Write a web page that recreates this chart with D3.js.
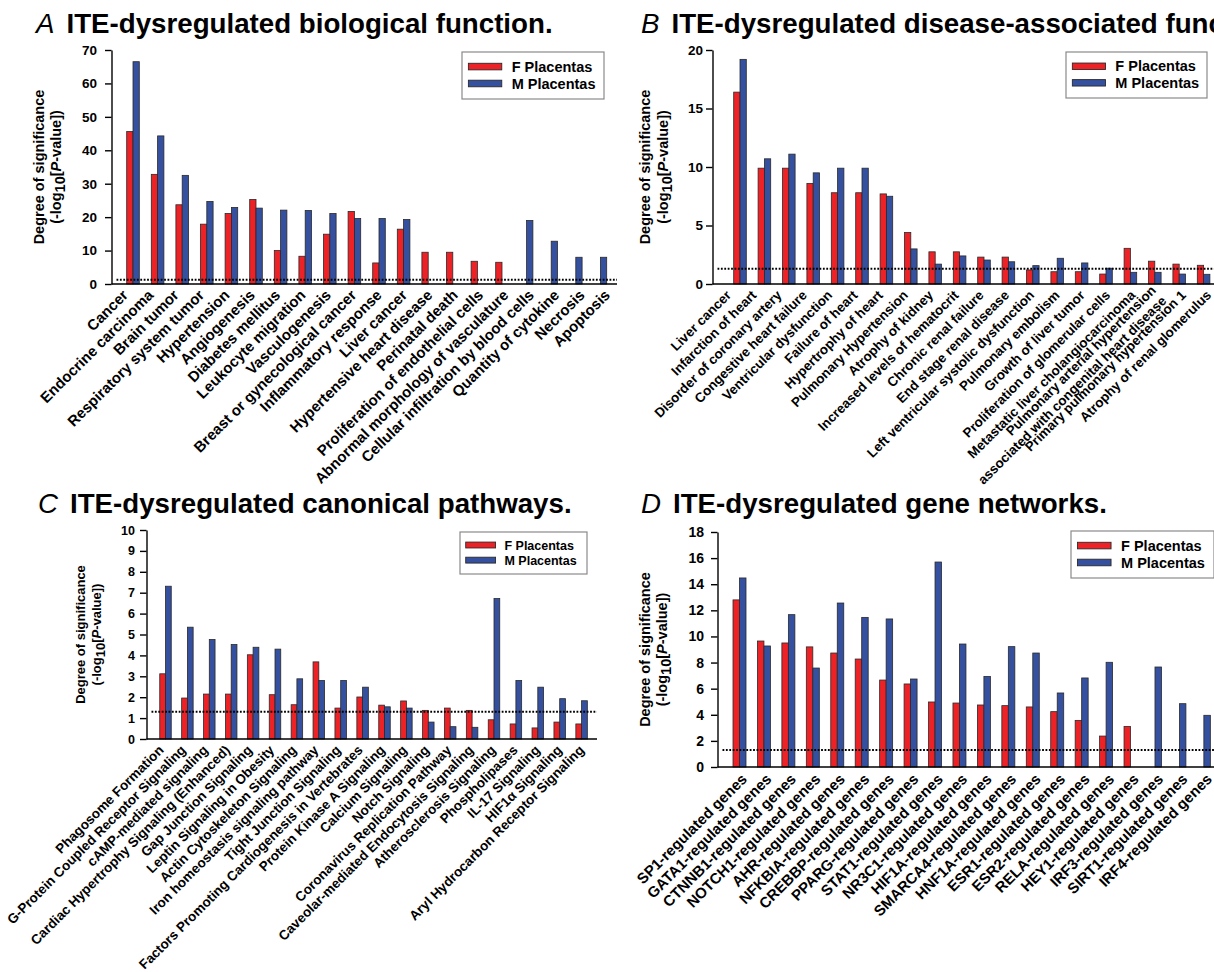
<!DOCTYPE html>
<html>
<head>
<meta charset="utf-8">
<script src="https://cdn.jsdelivr.net/npm/d3@7"></script>
<style>
  body { margin: 0; background: #fff; }
  svg text { font-family: 'Liberation Sans', Arial, Helvetica, sans-serif; font-weight: bold; fill: #000; }
</style>
</head>
<body>
<svg id="chart" width="1214" height="972"></svg>
<script>
// legend names and significance threshold (-log10 of 0.05)
const seriesNames = ['F Placentas', 'M Placentas'];
const threshold = 1.3;

// A - biological function
const catsA = ['Cancer', 'Endocrine carcinoma', 'Brain tumor', 'Respiratory system tumor', 'Hypertension',
  'Angiogenesis', 'Diabetes mellitus', 'Leukocyte migration', 'Vasculogenesis', 'Breast or gynecological cancer',
  'Inflammatory response', 'Liver cancer', 'Hypertensive heart disease', 'Perinatal death',
  'Proliferation of endothelial cells', 'Abnormal morphology of vasculature', 'Cellular infiltration by blood cells',
  'Quantity of cytokine', 'Necrosis', 'Apoptosis'];
const femaleA = [45.6, 32.8, 23.7, 17.9, 21.1, 25.3, 10.0, 8.3, 14.9, 21.7, 6.3, 16.4, 9.5, 9.5, 6.8, 6.5, 0, 0, 0, 0];
const maleA = [66.5, 44.3, 32.5, 24.7, 22.9, 22.7, 22.1, 22.0, 21.1, 19.6, 19.6, 19.3, 0, 0, 0, 0, 19.0, 12.8, 8.0, 8.0];
const ticksA = [0, 10, 20, 30, 40, 50, 60, 70];

// B - disease-associated functions
const catsB = ['Liver cancer', 'Infarction of heart', 'Disorder of coronary artery', 'Congestive heart failure',
  'Ventricular dysfunction', 'Failure of heart', 'Hypertrophy of heart', 'Pulmonary Hypertension',
  'Atrophy of kidney', 'Increased levels of hematocrit', 'Chronic renal failure', 'End stage renal disease',
  'Left ventricular systolic dysfunction', 'Pulmonary embolism', 'Growth of liver tumor',
  'Proliferation of glomerular cells', 'Metastatic liver cholangiocarcinoma',
  'Pulmonary arterial hypertension\nassociated with congenital heart disease',
  'Primary pulmonary hypertension 1', 'Atrophy of renal glomerulus'];
const femaleB = [16.4, 9.9, 9.9, 8.6, 7.8, 7.8, 7.7, 4.4, 2.75, 2.75, 2.3, 2.3, 1.2, 1.05, 1.05, 0.85, 3.05, 1.95, 1.7, 1.6];
const maleB = [19.2, 10.7, 11.1, 9.5, 9.9, 9.9, 7.5, 3.0, 1.7, 2.4, 2.05, 1.9, 1.57, 2.2, 1.8, 1.35, 1.0, 1.0, 0.85, 0.83];
const ticksB = [0, 5, 10, 15, 20];

// C - canonical pathways
const catsC = ['Phagosome Formation', 'G-Protein Coupled Receptor Signaling', 'cAMP-mediated signaling',
  'Cardiac Hypertrophy Signaling (Enhanced)', 'Gap Junction Signaling', 'Leptin Signaling in Obesity',
  'Actin Cytoskeleton Signaling', 'Iron homeostasis signaling pathway', 'Tight Junction Signaling',
  'Factors Promoting Cardiogenesis in Vertebrates', 'Protein Kinase A Signaling', 'Calcium Signaling',
  'Notch Signaling', 'Coronavirus Replication Pathway', 'Caveolar-mediated Endocytosis Signaling',
  'Atherosclerosis Signaling', 'Phospholipases', 'IL-17 Signaling', 'HIF1α Signaling',
  'Aryl Hydrocarbon Receptor Signaling'];
const femaleC = [3.12, 1.96, 2.15, 2.15, 4.03, 2.12, 1.64, 3.69, 1.48, 2.01, 1.62, 1.82, 1.37, 1.48, 1.37, 0.92, 0.72, 0.53, 0.81, 0.72];
const maleC = [7.31, 5.35, 4.76, 4.52, 4.39, 4.30, 2.88, 2.80, 2.80, 2.48, 1.54, 1.48, 0.81, 0.59, 0.56, 6.72, 2.80, 2.48, 1.93, 1.83];
const ticksC = [0, 1, 2, 3, 4, 5, 6, 7, 8, 9, 10];

// D - gene networks
const catsD = ['SP1-regulated genes', 'GATA1-regulated genes', 'CTNNB1-regulated genes', 'NOTCH1-regulated genes',
  'AHR-regulated genes', 'NFKBIA-regulated genes', 'CREBBP-regulated genes', 'PPARG-regulated genes',
  'STAT1-regulated genes', 'NR3C1-regulated genes', 'HIF1A-regulated genes', 'SMARCA4-regulated genes',
  'HNF1A-regulated genes', 'ESR1-regulated genes', 'ESR2-regulated genes', 'RELA-regulated genes',
  'HEY1-regulated genes', 'IRF3-regulated genes', 'SIRT1-regulated genes', 'IRF4-regulated genes'];
const femaleD = [12.8, 9.65, 9.5, 9.2, 8.73, 8.27, 6.66, 6.36, 4.98, 4.9, 4.75, 4.7, 4.6, 4.24, 3.57, 2.37, 3.11, 0, 0, 0];
const maleD = [14.48, 9.27, 11.67, 7.58, 12.56, 11.46, 11.34, 6.74, 15.7, 9.42, 6.94, 9.22, 8.73, 5.67, 6.82, 8.02, 0, 7.66, 4.85, 3.96];
const ticksD = [0, 2, 4, 6, 8, 10, 12, 14, 16, 18];

const colors = ['#ec2227', '#34509f'];

const svg = d3.select('#chart');
svg.append('rect').attr('width', 1214).attr('height', 972).attr('fill', '#fff');

// layout per panel; labRange is where the rotated category labels end
const panels = [
  { letter: 'A', title: 'ITE-dysregulated biological function.', cats: catsA, f: femaleA, m: maleA, ticks: ticksA,
    tx: 36, ty: 33, axisX: 111.5, yTop: 50, yBot: 284, c0: 133, step: 24.6, groupW: 12.6, xEnd: 617,
    tickFont: 13.5, tickPad: 8, labFont: 15, labRange: [129, 611], ldy: 12, yl1: 44, yl2: 61, ylFont: 14.5,
    leg: { x: 462, y: 52, w: 142, h: 47, font: 14.5 } },
  { letter: 'B', title: 'ITE-dysregulated disease-associated functions.', cats: catsB, f: femaleB, m: maleB, ticks: ticksB,
    tx: 641, ty: 33, axisX: 712.5, yTop: 50, yBot: 284, c0: 740, step: 24.4, groupW: 12.6, xEnd: 1214,
    tickFont: 13.5, tickPad: 3, labFont: 13.4, labRange: [732, 1212], ldy: 12, yl1: 650, yl2: 668, ylFont: 14.5,
    leg: { x: 1066, y: 52, w: 141, h: 46, font: 14.5 } },
  { letter: 'C', title: 'ITE-dysregulated canonical pathways.', cats: catsC, f: femaleC, m: maleC, ticks: ticksC,
    tx: 38, ty: 513, axisX: 146.5, yTop: 530, yBot: 739, c0: 165.5, step: 21.9, groupW: 11.5, xEnd: 597,
    tickFont: 12.5, tickPad: 5, labFont: 13.5, labRange: [164.5, 585], ldy: 12, yl1: 85, yl2: 101, ylFont: 13,
    leg: { x: 460, y: 532, w: 127, h: 42, font: 12.5 } },
  { letter: 'D', title: 'ITE-dysregulated gene networks.', cats: catsD, f: femaleD, m: maleD, ticks: ticksD,
    tx: 641, ty: 513, axisX: 717.5, yTop: 532, yBot: 767, c0: 739.5, step: 24.44, groupW: 13, xEnd: 1214,
    tickFont: 14, tickPad: 7, labFont: 15, labRange: [748, 1213], ldy: 13, yl1: 650, yl2: 667, ylFont: 14.5,
    leg: { x: 1071, y: 531, w: 143, h: 47, font: 14.5 } }
];

function drawPanel(p) {
  const g = svg.append('g').attr('class', 'panel-' + p.letter);
  const n = p.cats.length;
  const pad = 1 - p.groupW / p.step;

  const x = d3.scaleBand()
    .domain(p.cats)
    .range([p.c0 - p.step / 2, p.c0 - p.step / 2 + n * p.step])
    .paddingInner(pad)
    .paddingOuter(pad / 2);
  const xs = d3.scaleBand().domain([0, 1]).range([0, x.bandwidth()]);
  const xl = d3.scalePoint().domain(p.cats).range(p.labRange);
  const y = d3.scaleLinear().domain([0, d3.max(p.ticks)]).range([p.yBot, p.yTop]);

  // title
  const t = g.append('text').attr('x', p.tx).attr('y', p.ty).attr('font-size', 27.7);
  t.append('tspan').attr('font-style', 'italic').style('font-weight', 'normal').text(p.letter);
  t.append('tspan').attr('dx', 12).text(p.title);

  // bars
  const rows = p.cats.map((c, i) => ({ cat: c, vals: [p.f[i], p.m[i]] }));
  const grp = g.append('g').selectAll('g').data(rows).join('g')
    .attr('transform', d => `translate(${x(d.cat)},0)`);
  grp.selectAll('rect')
    .data(d => d.vals.map((v, k) => ({ v, k })).filter(e => e.v > 0))
    .join('rect')
    .attr('x', e => xs(e.k))
    .attr('width', xs.bandwidth())
    .attr('y', e => y(e.v))
    .attr('height', e => y(0) - y(e.v))
    .attr('fill', e => colors[e.k])
    .attr('stroke', '#2a2a2a')
    .attr('stroke-width', 0.8);

  // threshold
  g.append('line')
    .attr('x1', p.axisX + 5).attr('x2', p.xEnd)
    .attr('y1', y(threshold)).attr('y2', y(threshold))
    .attr('stroke', '#000').attr('stroke-width', 2)
    .attr('stroke-dasharray', '1.8 1.6');

  // y axis
  const ya = g.append('g')
    .attr('transform', `translate(${p.axisX},0)`)
    .call(d3.axisLeft(y).tickValues(p.ticks).tickSize(6.5).tickSizeOuter(0).tickPadding(p.tickPad));
  ya.select('.domain').attr('stroke', '#000').attr('stroke-width', 1.4);
  ya.selectAll('.tick line').attr('stroke', '#000').attr('stroke-width', 1.4);
  ya.selectAll('text').attr('font-size', p.tickFont);

  // x axis line
  g.append('line')
    .attr('x1', p.axisX).attr('x2', p.xEnd)
    .attr('y1', p.yBot).attr('y2', p.yBot)
    .attr('stroke', '#000').attr('stroke-width', 1.6);

  // category labels
  g.append('g').selectAll('text').data(p.cats).join('text')
    .attr('text-anchor', 'end')
    .attr('font-size', p.labFont)
    .attr('transform', d => `translate(${xl(d)},${p.yBot + p.ldy}) rotate(-45)`)
    .each(function (d) {
      const lines = d.split('\n');
      const el = d3.select(this);
      if (lines.length === 1) { el.text(d); return; }
      lines.forEach((ln, i) => {
        el.append('tspan').attr('x', 0).attr('dy', i === 0 ? '-0.5em' : '1.1em').text(ln);
      });
    });

  // y axis title
  const cy = (p.yTop + p.yBot) / 2;
  g.append('text')
    .attr('transform', `translate(${p.yl1},${cy}) rotate(-90)`)
    .attr('text-anchor', 'middle').attr('font-size', p.ylFont)
    .text('Degree of significance');
  const y2 = g.append('text')
    .attr('transform', `translate(${p.yl2},${cy}) rotate(-90)`)
    .attr('text-anchor', 'middle').attr('font-size', p.ylFont);
  y2.append('tspan').text('(-log');
  y2.append('tspan').attr('dy', '0.3em').text('10');
  y2.append('tspan').attr('dy', '-0.3em').text('[');
  y2.append('tspan').attr('font-style', 'italic').text('P');
  y2.append('tspan').text('-value])');

  // legend
  const L = p.leg;
  const lg = g.append('g').attr('transform', `translate(${L.x},${L.y})`);
  lg.append('rect').attr('width', L.w).attr('height', L.h)
    .attr('fill', '#fff').attr('stroke', '#8a8a8a').attr('stroke-width', 1.2);
  const sw = L.w * 0.235, lineGap = L.h * 0.36;
  seriesNames.forEach((s, k) => {
    const yy = L.h * 0.31 + k * lineGap;
    lg.append('rect').attr('x', L.w * 0.045).attr('y', yy - L.h * 0.07)
      .attr('width', sw).attr('height', L.h * 0.14)
      .attr('fill', colors[k]).attr('stroke', '#2a2a2a').attr('stroke-width', 0.9);
    lg.append('text').attr('x', L.w * 0.045 + sw + L.w * 0.07).attr('y', yy + L.font * 0.36)
      .attr('font-size', L.font).text(s);
  });
}

panels.forEach(drawPanel);
</script>
</body>
</html>
